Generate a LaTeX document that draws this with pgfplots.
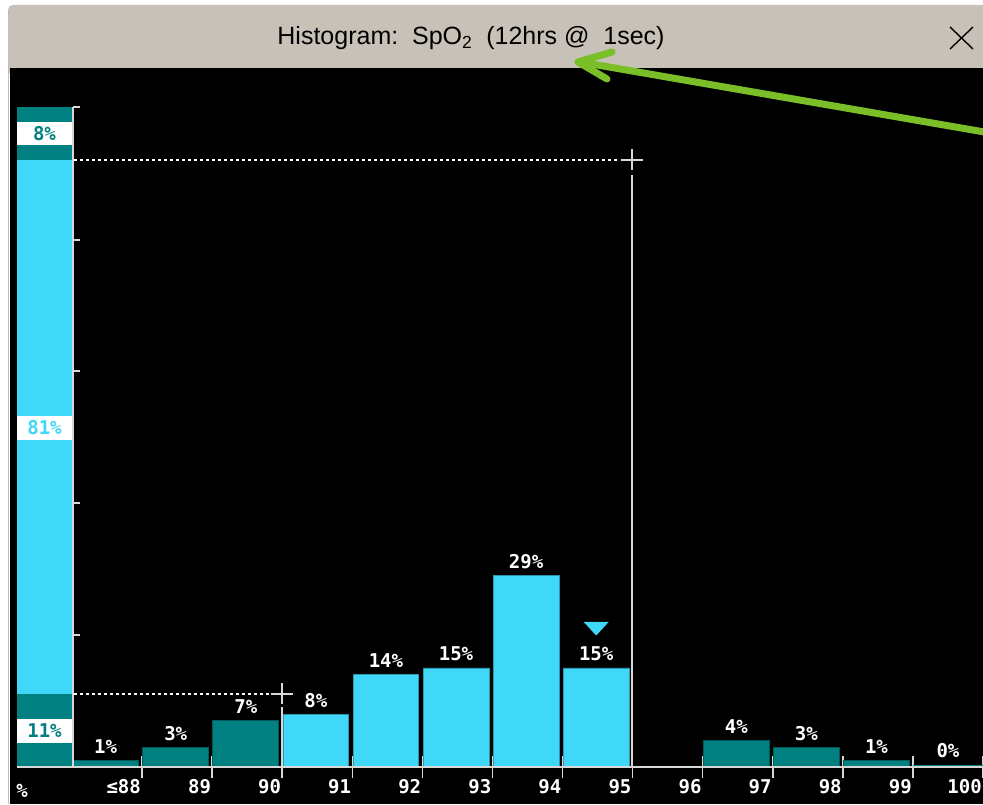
\documentclass[border=0pt]{standalone}
\usepackage{pgfplots}
\pgfplotsset{compat=1.18}
\usepackage{fontspec}
\setmainfont{Liberation Sans}
\newfontfamily\monofont{DejaVu Sans Mono}
\usetikzlibrary{arrows.meta}
\definecolor{cyanbar}{RGB}{64,216,248}
\definecolor{tealbar}{RGB}{0,128,128}
\definecolor{titlegray}{RGB}{200,193,184}
\definecolor{axgray}{RGB}{215,215,215}
\definecolor{arrowgreen}{RGB}{122,190,40}
\newcommand{\lab}{\monofont\bfseries\fontsize{19}{19}\selectfont}

\begin{document}
\begin{tikzpicture}
% background (pixel coordinates)
\begin{scope}[x=1pt,y=-1pt,shift={(0pt,804pt)}]
  \fill[white] (0,0) rectangle (983,804);
  \fill[titlegray, rounded corners=5pt] (8,5) rectangle (990,75);
  \fill[black] (10,68) rectangle (983,804);
  \draw[black!25, line width=1pt] (8.5,804) -- (8.5,10);
\end{scope}

\begin{axis}[at={(0pt,0pt)}, anchor=south west, scale only axis,
  width=983pt, height=804pt,
  xmin=-1.0274, xmax=13.0, ymin=-5.606, ymax=116.21,
  axis x line*=middle, axis y line=none,
  x axis line style={draw=none},
  xtick={1,...,13},
  xticklabels={≤88,89,90,91,92,93,94,95,96,97,98,99,100},
  major tick length=22pt, tick align=center,
  tick style={axgray, line width=1.6pt},
  xticklabel style={anchor=north east, text=white, font=\lab, inner sep=1pt},
  ytick=\empty, clip=false,
  /pgf/number format/assume math mode=true,
  every node near coord/.append style={text=white, font=\lab, anchor=center, yshift=14pt},
  ]
  % left cumulative bar (below 90 / 90-95 / above 95)
  \addplot[ybar, bar width=0.785, bar shift=0pt, fill=tealbar, draw=none] coordinates {(-0.3925,100)};
  \addplot[ybar, bar width=0.785, bar shift=0pt, fill=cyanbar, draw=none] coordinates {(-0.3925,92)};
  \addplot[ybar, bar width=0.785, bar shift=0pt, fill=tealbar, draw=none] coordinates {(-0.3925,11)};
  % histogram bins outside limits
  \addplot[ybar, bar width=0.94, bar shift=0pt, fill=tealbar, draw=tealbar!70!black, line width=0.8pt,
    nodes near coords={\pgfmathprintnumber{\pgfplotspointmeta}\%}]
    coordinates {(0.48,1) (1.48,3) (2.48,7) (9.48,4) (10.48,3) (11.48,1)};
  % histogram bins inside limits
  \addplot[ybar, bar width=0.94, bar shift=0pt, fill=cyanbar, draw=cyanbar!70!black, line width=0.8pt,
    nodes near coords={\pgfmathprintnumber{\pgfplotspointmeta}\%}]
    coordinates {(3.48,8) (4.48,14) (5.48,15) (6.48,29) (7.48,15)};
  % 100 bin (0%)
  \addplot[ybar, bar width=1.0, bar shift=0pt, fill=tealbar, draw=none,
    nodes near coords={0\%}]
    coordinates {(12.5,0.3)};
  % median marker
  \addplot[only marks, mark=triangle*, mark size=8.7pt, color=cyanbar,
    mark options={fill=cyanbar, draw=none, rotate=180, xscale=1.6}]
    coordinates {(7.48,21.3)};
\end{axis}

% overlays (pixel coordinates)
\begin{scope}[x=1pt,y=-1pt,shift={(0pt,804pt)}]
  % axes
  \draw[axgray, line width=1.6pt] (17,767) -- (983,767);
  \draw[axgray, line width=1.6pt] (73,107) -- (73,767);
  \foreach \yy in {107,240,371,503,635} \draw[axgray, line width=1.6pt] (73,\yy) -- (80,\yy);
  % limit lines
  \draw[white, line width=1.3pt, dash pattern=on 3pt off 3pt] (74,160) -- (620,160);
  \draw[axgray, line width=1.4pt] (621,160) -- (643,160) (632,149) -- (632,170);
  \draw[axgray, line width=1.6pt] (632,175) -- (632,767);
  \draw[white, line width=1.3pt, dash pattern=on 3pt off 3pt] (74,694) -- (270,694);
  \draw[axgray, line width=1.4pt] (271,694) -- (293,694) (282,683) -- (282,704);
  \draw[axgray, line width=1.6pt] (282,707) -- (282,767);
  % labels in left bar
  \node[fill=white, minimum width=55pt, minimum height=23pt, inner sep=0, text=tealbar, font=\lab] at (44.5,133.5) {8\%};
  \node[fill=white, minimum width=55pt, minimum height=24pt, inner sep=0, text=cyanbar, font=\lab] at (44.5,428) {81\%};
  \node[fill=white, minimum width=55pt, minimum height=24pt, inner sep=0, text=tealbar, font=\lab] at (44.5,731) {11\%};
  \node[text=white, font=\lab, inner sep=0] at (22,791) {\%};
  % title bar
  \node[font=\fontsize{25}{26}\selectfont, inner sep=0, anchor=base] at (471,45)
    {Histogram:\ \ SpO\textsubscript{2}\ \ (12hrs\ @\ \ 1sec)};
  \draw[black, line width=1.4pt] (950,27) -- (973,49) (973,27) -- (950,49);
  % annotation arrow
  \draw[arrowgreen, line width=7pt, line cap=round] (990,133) -- (580,62);
  \draw[arrowgreen, line width=7pt, line cap=round, line join=round] (612,52) -- (578,62) -- (607,79);
\end{scope}
\pgfresetboundingbox
\path[use as bounding box] (0,0) rectangle (983pt,804pt);
\end{tikzpicture}
\end{document}
